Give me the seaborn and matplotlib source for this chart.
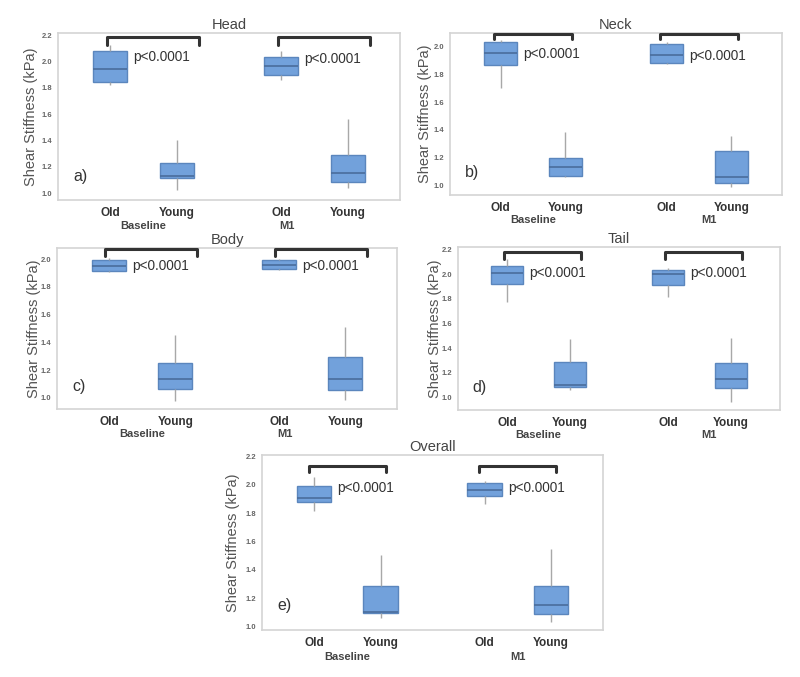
import numpy as np
import pandas as pd
import matplotlib
matplotlib.use("Agg")
import matplotlib.pyplot as plt
import seaborn as sns

# ---------------- data (five-number summaries: whisker low, Q1, median, Q3, whisker high)
timepoints = ["Baseline", "M1"]
groups = ["Old", "Young"]
regions = ["Head", "Neck", "Body", "Tail", "Overall"]
letters = ["a)", "b)", "c)", "d)", "e)"]
p_text = "p<0.0001"

# order: Baseline-Old, Baseline-Young, M1-Old, M1-Young
head = [[1.825, 1.848, 1.942, 2.084, 2.13],
        [1.023, 1.116, 1.129, 1.230, 1.403],
        [1.858, 1.901, 1.965, 2.033, 2.08],
        [1.040, 1.083, 1.151, 1.289, 1.564]]
neck = [[1.706, 1.867, 1.952, 2.036, 2.05],
        [1.060, 1.067, 1.133, 1.200, 1.386],
        [1.875, 1.880, 1.940, 2.019, 2.036],
        [0.988, 1.019, 1.060, 1.248, 1.354]]
body = [[1.910, 1.916, 1.947, 1.990, 2.007],
        [0.980, 1.065, 1.137, 1.252, 1.451],
        [1.923, 1.930, 1.960, 1.990, 2.000],
        [0.983, 1.060, 1.137, 1.295, 1.511]]
tail = [[1.771, 1.923, 2.010, 2.070, 2.124],
        [1.060, 1.087, 1.103, 1.285, 1.472],
        [1.814, 1.912, 2.004, 2.037, 2.050],
        [0.965, 1.073, 1.147, 1.282, 1.480]]
overall = [[1.812, 1.882, 1.910, 1.988, 2.054],
           [1.059, 1.099, 1.106, 1.287, 1.506],
           [1.864, 1.918, 1.960, 2.012, 2.030],
           [1.035, 1.089, 1.151, 1.289, 1.546]]
region_values = [head, neck, body, tail, overall]

# ---------------- layout / style
sns.set_style("white")
plt.rcParams["font.family"] = ["Liberation Sans", "DejaVu Sans"]

BOX = "#72a1db"
EDGE = "#5b86bd"
MED = "#4a6d9c"
WHISK = "#a8a8a8"
SPINE = "#d4d4d4"

fig = plt.figure(figsize=(8.0, 6.77), dpi=100)

panels = [
    dict(rect=[0.0725, 0.7046, 0.4275, 0.2467], ylim=(0.949, 2.218), yticks=np.arange(1.0, 2.21, 0.2),
         br=(2.185, 2.13), ext=(0.02, 0.13), ptxt=(2.035, 2.02), m1dx=-0.16, lpad=3),
    dict(rect=[0.5625, 0.7120, 0.415, 0.2393], ylim=(0.93, 2.10), yticks=np.arange(1.0, 2.01, 0.2),
         br=(2.096, 2.053), ext=(0.04, 0.04), ptxt=(1.945, 1.935), m1dx=0.06, lpad=1),
    dict(rect=[0.0713, 0.3959, 0.425, 0.2378], ylim=(0.92, 2.08), yticks=np.arange(1.0, 2.01, 0.2),
         br=(2.072, 2.024), ext=(0.02, 0.13), ptxt=(1.947, 1.947), m1dx=-0.16, lpad=0),
    dict(rect=[0.5725, 0.3944, 0.4025, 0.2408], ylim=(0.897, 2.222), yticks=np.arange(1.0, 2.21, 0.2),
         br=(2.178, 2.124), ext=(0.02, 0.07), ptxt=(2.01, 2.01), m1dx=0.06, lpad=0),
    dict(rect=[0.3275, 0.0694, 0.4263, 0.2585], ylim=(0.976, 2.21), yticks=np.arange(1.0, 2.21, 0.2),
         br=(2.136, 2.087), ext=(0.03, 0.03), ptxt=(1.98, 1.98), m1dx=0.0, lpad=4),
]

WIDTH = 0.78
GAP = 0.48
half_step = WIDTH / 4.0            # offset of each hue box from category centre
box_half = (WIDTH / 2.0) * (1 - GAP) / 2.0

for reg, vals, let, cfg in zip(regions, region_values, letters, panels):
    rows = []
    k = 0
    for tp in timepoints:
        for g in groups:
            for v in vals[k]:
                rows.append(dict(Timepoint=tp, Group=g, Shear=v))
            k += 1
    df = pd.DataFrame(rows)

    ax = fig.add_axes(cfg["rect"])
    sns.boxplot(data=df, x="Timepoint", y="Shear", hue="Group", order=timepoints, hue_order=groups,
                palette={"Old": BOX, "Young": BOX}, saturation=1, width=WIDTH, gap=GAP,
                whis=(0, 100), showcaps=False, linecolor=EDGE, linewidth=1.0,
                medianprops=dict(color=MED, linewidth=1.2),
                whiskerprops=dict(color=WHISK, linewidth=1.0),
                legend=False, ax=ax)

    ax.set_xlim(-0.5, 1.5)
    ax.set_ylim(*cfg["ylim"])
    ax.set_yticks(cfg["yticks"])
    ax.set_yticklabels([f"{t:.1f}" for t in cfg["yticks"]], fontsize=5.5, fontweight="bold", color="#666666")

    # Old / Young tick labels under each box
    xt = []
    for i in range(len(timepoints)):
        xt += [i - half_step, i + half_step]
    ax.set_xticks(xt)
    ax.set_xticklabels(groups * len(timepoints), fontsize=8.5, fontweight="bold", color="#333333")
    ax.tick_params(axis="x", length=3, width=0.8, color="#cccccc", pad=2)
    ax.tick_params(axis="y", length=2, width=0.6, color="#cccccc", pad=2)
    for s in ax.spines.values():
        s.set_color(SPINE)
        s.set_linewidth(1.2)
        s.set_visible(True)

    # Baseline / M1 labels below
    trans = matplotlib.transforms.blended_transform_factory(ax.transData, ax.transAxes)
    for i, tp in enumerate(timepoints):
        dx = cfg["m1dx"] if tp == "M1" else 0.0
        ax.text(i + dx, -0.155, tp, transform=trans, ha="center", va="center",
                fontsize=8, fontweight="bold", color="#444444")

    ax.set_xlabel("")
    ax.set_ylabel("Shear Stiffness (kPa)", fontsize=10.5, color="#555555", labelpad=cfg["lpad"])
    ax.set_title(reg, fontsize=10.5, color="#444444", pad=3)

    # significance brackets and p-values
    ytop, yleg = cfg["br"]
    for i in range(len(timepoints)):
        x0 = i - half_step - cfg["ext"][0]
        x1 = i + half_step + cfg["ext"][1]
        ax.plot([x0, x0, x1, x1], [yleg, ytop, ytop, yleg], color="#333333", lw=2.2,
                solid_joinstyle="round", solid_capstyle="round", zorder=5, clip_on=False)
        ax.text(i - half_step + box_half + 0.035, cfg["ptxt"][i], p_text, ha="left", va="center",
                fontsize=9.8, color="#333333")

    ax.text(0.045, 0.14, let, transform=ax.transAxes, ha="left", va="center",
            fontsize=11.5, color="#333333")

fig.savefig("out.png", dpi=100)
